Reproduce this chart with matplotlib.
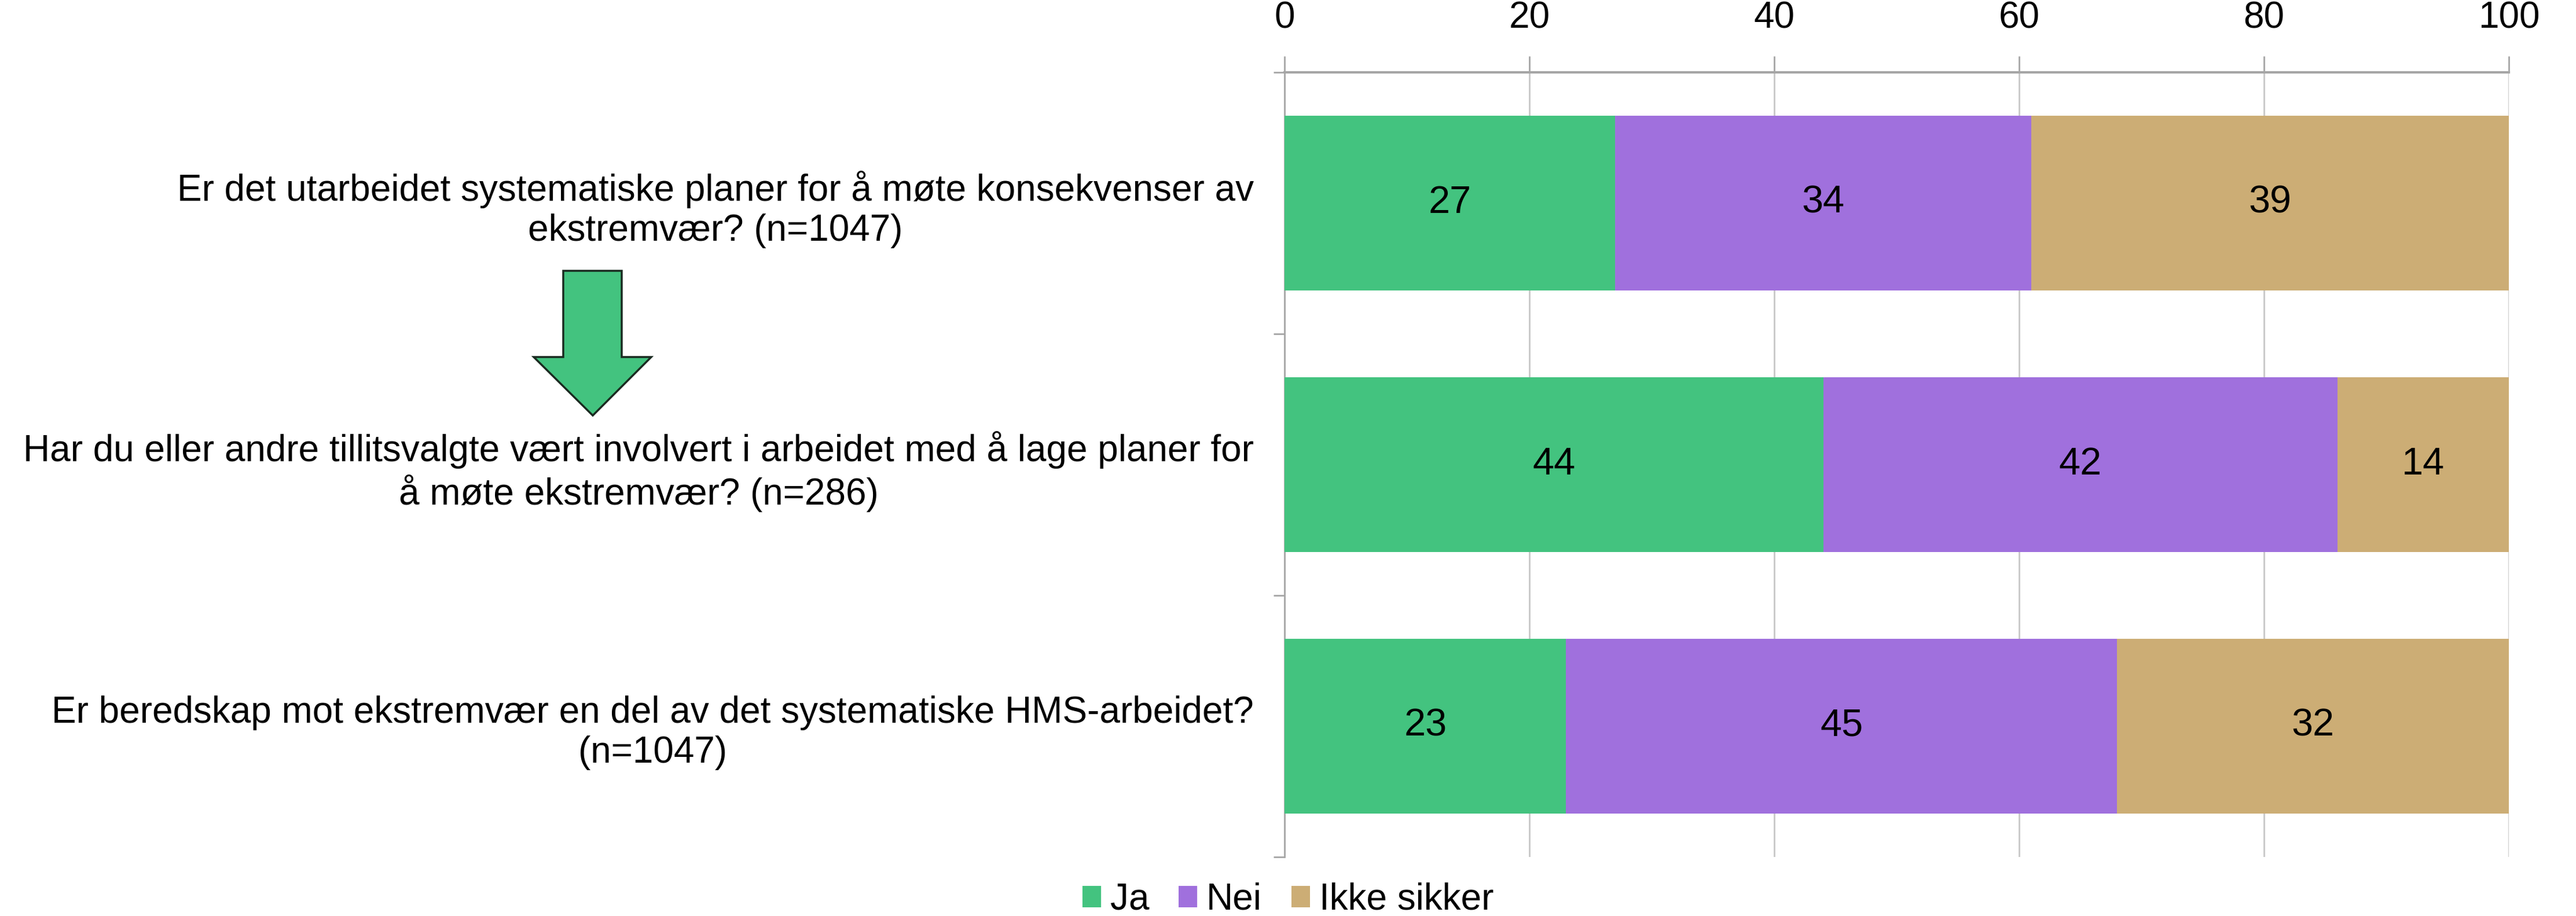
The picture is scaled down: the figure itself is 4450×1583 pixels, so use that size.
import matplotlib
matplotlib.use("Agg")
import matplotlib.pyplot as plt
from matplotlib.patches import Polygon
import numpy as np

plt.rcParams['font.family'] = ['Liberation Sans', 'DejaVu Sans']

categories = [
    "Er det utarbeidet systematiske planer for å møte konsekvenser av\nekstremvær? (n=1047)",
    "Har du eller andre tillitsvalgte vært involvert i arbeidet med å lage planer for\nå møte ekstremvær? (n=286)",
    "Er beredskap mot ekstremvær en del av det systematiske HMS-arbeidet?\n(n=1047)",
]
series_names = ["Ja", "Nei", "Ikke sikker"]
ja = [27, 44, 23]
nei = [34, 42, 45]
ikke_sikker = [39, 14, 32]
colors = ["#43C37F", "#A070DD", "#CCAD75"]
xticks = [0, 20, 40, 60, 80, 100]

W, H = 4450, 1583
fig = plt.figure(figsize=(W / 100, H / 100), dpi=100)
ax = fig.add_axes([2219 / W, 1 - 1481 / H, (4334 - 2219) / W, (1481 - 125) / H])

y = np.arange(len(categories))
left = np.zeros(len(categories))
FS = 46
for vals, name, col in zip([ja, nei, ikke_sikker], series_names, colors):
    bars = ax.barh(y, vals, left=left, height=0.67, color=col, label=name, zorder=3)
    ax.bar_label(bars, labels=[str(v) for v in vals], label_type='center',
                 fontsize=48, color='black')
    left = left + np.array(vals)

ax.set_xlim(0, 100)
ax.set_ylim(len(categories) - 0.5, -0.5)
ax.xaxis.tick_top()
ax.set_xticks(xticks)
ax.set_xticklabels([str(t) for t in xticks], fontsize=FS)
ax.tick_params(axis='x', which='major', length=20, width=2, color='#A6A6A6', pad=26)
ax.grid(axis='x', color='#C8C8C8', linewidth=2, zorder=0)

ax.set_yticks(y)
ax.set_yticklabels(categories, fontsize=FS)
for lab in ax.get_yticklabels():
    lab.set_multialignment('center')
ax.tick_params(axis='y', which='major', length=0, pad=38)
ax.set_yticks(np.arange(-0.5, len(categories) + 0.5, 1), minor=True)
ax.tick_params(axis='y', which='minor', length=14, width=2, color='#A6A6A6')

for s in ['right', 'bottom']:
    ax.spines[s].set_visible(False)
ax.spines['top'].set_color('#A6A6A6')
ax.spines['top'].set_linewidth(3)
ax.spines['left'].set_color('#A6A6A6')
ax.spines['left'].set_linewidth(2)

# Decorative arrow
oax = fig.add_axes([0, 0, 1, 1], zorder=-1)
oax.set_xlim(0, W)
oax.set_ylim(H, 0)
oax.axis('off')
arrow = Polygon([(973, 468), (1074, 468), (1074, 617), (1125, 617), (1024, 718),
                 (922, 617), (973, 617)], closed=True, facecolor='#43C37F',
                edgecolor='#1A2A20', linewidth=2.5)
oax.add_patch(arrow)

leg = fig.legend(loc='center', bbox_to_anchor=(0.5, 1 - 1555 / H), ncol=3,
                 frameon=False, fontsize=46, handlelength=0.5, handleheight=0.5,
                 handletextpad=0.25, columnspacing=0.8)

fig.savefig("out.png", dpi=100)
